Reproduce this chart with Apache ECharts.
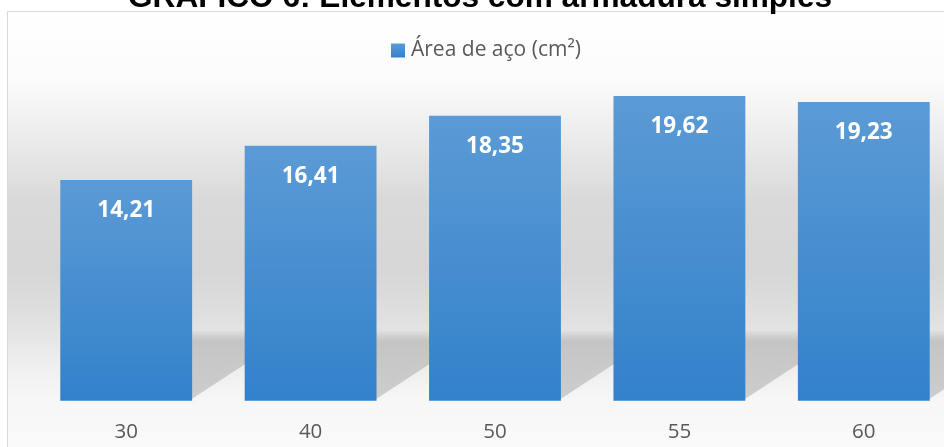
<!DOCTYPE html>
<html><head><meta charset="utf-8">
<script src="https://cdn.jsdelivr.net/npm/echarts@6/dist/echarts.min.js"></script>
<style>html,body{margin:0;padding:0;background:#fff}#c{width:944px;height:447px}</style>
</head><body><div id="c"></div>
<script>
const titleText = 'GRÁFICO 6: Elementos com armadura simples';
const seriesName = 'Área de aço (cm²)';
const categories = ['30', '40', '50', '55', '60'];
const values = [14.21, 16.41, 18.35, 19.62, 19.23];

const chart = echarts.init(document.getElementById('c'));
const barGrad = new echarts.graphic.LinearGradient(0, 0, 0, 1, [
  {offset: 0, color: '#5b9bd5'}, {offset: 1, color: '#3381cb'}
]);
chart.setOption({
  animation: false,
  graphic: [
    {type: 'rect', z: -10, shape: {x: 7.5, y: 11.5, width: 960, height: 460},
     style: {stroke: '#d9d9d9', lineWidth: 1,
       fill: new echarts.graphic.LinearGradient(0, 0, 0, 1, [
         {offset: 0, color: '#ffffff'},
         {offset: 0.15, color: '#fbfbfb'},
         {offset: 0.28, color: '#ebebeb'},
         {offset: 0.41, color: '#d9d9d9'},
         {offset: 0.56, color: '#d6d6d6'},
         {offset: 0.67, color: '#e0e0e0'},
         {offset: 0.76, color: '#eeeeee'},
         {offset: 0.846, color: '#f7f7f7'},
         {offset: 1, color: '#fbfbfb'}
       ])}},
    {type: 'text', left: 128, top: -18, z: 10,
     style: {text: titleText, fontFamily: 'Liberation Sans, Arial', fontWeight: 'bold', fontSize: 31.6, fill: '#000'}}
  ],
  legend: {
    data: [seriesName], left: 386, top: 35, itemWidth: 14, itemHeight: 14, itemGap: 5,
    icon: 'rect',
    textStyle: {fontFamily: 'Open Sans', fontSize: 21, color: '#595959', padding: [0, 0, 0, 1]}
  },
  grid: {left: 34, width: 922, top: 90.1, bottom: 46.3, outerBoundsMode: 'none', containLabel: false},
  xAxis: {
    type: 'category', data: categories,
    axisLine: {show: false}, axisTick: {show: false},
    axisLabel: {fontFamily: 'Open Sans', fontSize: 20.5, color: '#595959', margin: 21}
  },
  yAxis: {type: 'value', min: 0, max: 20, show: false, splitLine: {show: false}},
  series: [
    {
      type: 'custom', z: 1, silent: true,
      data: values.map((v, i) => [i, v]),
      renderItem: function (params, api) {
        const p = api.coord([api.value(0), 0]);
        const bw = api.size([1, 0])[0] * 0.715;
        const x0 = p[0] - bw / 2, x1 = p[0] + bw / 2, y0 = p[1] - 2;
        const h = 68, dx = 104;
        return {
          type: 'polygon',
          shape: {points: [[x0, y0], [x1, y0], [x1 + dx, y0 - h], [x0 + dx, y0 - h]]},
          style: {
            fill: new echarts.graphic.LinearGradient(0, 0, 0, 1, [
              {offset: 0, color: 'rgba(0,0,0,0.02)'},
              {offset: 0.15, color: 'rgba(0,0,0,0.14)'},
              {offset: 1, color: 'rgba(0,0,0,0.16)'}
            ]),
            shadowBlur: 10, shadowColor: 'rgba(0,0,0,0.1)'
          }
        };
      }
    },
    {
      name: seriesName, type: 'bar', z: 5, data: values,
      barCategoryGap: '28.5%',
      itemStyle: {color: barGrad},
      label: {
        show: true, position: 'insideTop', distance: 19,
        fontFamily: 'Open Sans', fontWeight: 'bold', fontSize: 22.5, color: '#fff',
        formatter: p => p.value.toFixed(2).replace('.', ',')
      }
    }
  ]
});
</script></body></html>
